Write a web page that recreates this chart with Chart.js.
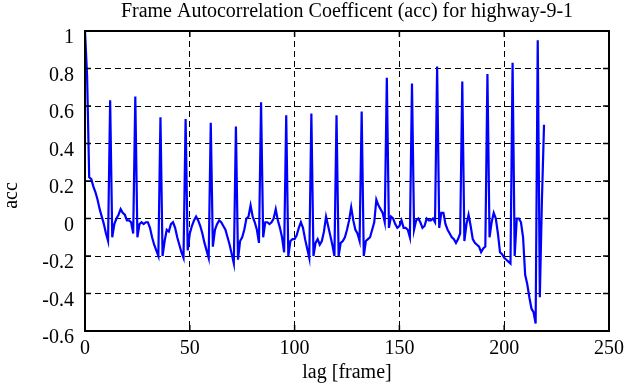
<!DOCTYPE html>
<html lang="en">
<head>
  <meta charset="UTF-8">
  <title>Frame Autocorrelation</title>
  <script src="https://cdn.jsdelivr.net/npm/chart.js"></script>
  <style>
    html, body { margin: 0; padding: 0; background: #fff; }
    #wrap { width: 630px; height: 387px; }
  </style>
</head>
<body>
  <div id="wrap"><canvas id="accChart" width="630" height="387"></canvas></div>

  <script>
    // autocorrelation coefficient, one value per lag (lag 0..219)
    const acc = [
      1.00, 0.76, 0.22, 0.21, 0.17, 0.14, 0.10, 0.05, 0.01, -0.03,
      -0.08, -0.12, 0.63, -0.10, -0.03, 0.00, 0.02, 0.05, 0.03, 0.02,
      -0.01, -0.01, -0.02, -0.08, 0.65, -0.10, -0.03, -0.02, -0.03, -0.02,
      -0.02, -0.05, -0.10, -0.14, -0.17, -0.20, 0.54, -0.20, -0.12, -0.06,
      -0.07, -0.03, -0.02, -0.05, -0.10, -0.14, -0.18, -0.21, 0.53, -0.17,
      -0.08, -0.04, -0.01, 0.01, -0.01, -0.04, -0.08, -0.13, -0.17, -0.21,
      0.51, -0.15, -0.06, -0.03, -0.01, -0.02, -0.04, -0.06, -0.10, -0.14,
      -0.19, -0.24, 0.49, -0.22, -0.12, -0.10, -0.06, 0.00, 0.01, 0.07,
      0.01, -0.02, -0.06, -0.13, 0.62, -0.10, -0.02, -0.02, -0.03, -0.02,
      0.00, 0.05, -0.01, -0.05, -0.10, -0.18, 0.55, -0.20, -0.12, -0.11,
      -0.11, -0.09, -0.05, -0.02, -0.05, -0.11, -0.16, -0.21, 0.56, -0.20,
      -0.13, -0.11, -0.14, -0.12, -0.07, 0.01, -0.04, -0.09, -0.14, -0.20,
      0.55, -0.20, -0.13, -0.12, -0.10, -0.06, -0.01, 0.06, -0.01, -0.06,
      -0.08, -0.12, 0.57, -0.20, -0.12, -0.11, -0.10, -0.06, -0.02, 0.10,
      0.07, 0.05, 0.03, -0.02, 0.75, -0.05, 0.01, 0.00, -0.03, -0.05,
      -0.04, -0.01, -0.05, -0.05, -0.06, -0.10, 0.72, -0.06, -0.01, 0.00,
      -0.02, -0.05, -0.04, 0.00, -0.01, -0.01, 0.00, -0.02, 0.81, -0.05,
      0.03, 0.03, -0.03, -0.06, -0.08, -0.10, -0.11, -0.13, -0.11, -0.08,
      0.73, -0.12, -0.03, 0.02, -0.04, -0.11, -0.13, -0.14, -0.15, -0.18,
      -0.16, -0.15, 0.77, -0.10, -0.02, 0.03, 0.00, -0.08, -0.18, -0.19,
      -0.21, -0.22, -0.23, -0.24, 0.83, -0.20, 0.00, 0.00, -0.02, -0.10,
      -0.30, -0.35, -0.42, -0.48, -0.50, -0.56, 0.95, -0.42, 0.10, 0.50
    ];
    const lags = acc.map((v, i) => i);

    // axis ticks
    const xTicks = [0, 50, 100, 150, 200, 250];
    const yTicks = [-0.6, -0.4, -0.2, 0, 0.2, 0.4, 0.6, 0.8, 1];
    const yTickLabels = ["-0.6", "-0.4", "-0.2", "0", "0.2", "0.4", "0.6", "0.8", "1"];
    const yTitle = "acc";

    const serif = "'Liberation Serif', 'Times New Roman', serif";

    // black frame round the plot, small inward ticks on every side, y title
    const framePlugin = {
      id: "frame",
      afterDraw(chart) {
        const ctx = chart.ctx;
        const a = chart.chartArea;
        const xs = chart.scales.x, ys = chart.scales.y;
        ctx.save();
        ctx.strokeStyle = "#000";
        ctx.lineWidth = 1.5;
        ctx.beginPath();
        xTicks.forEach(t => {
          const px = xs.getPixelForValue(t);
          ctx.moveTo(px, a.bottom); ctx.lineTo(px, a.bottom - 6);
          ctx.moveTo(px, a.top); ctx.lineTo(px, a.top + 6);
        });
        yTicks.forEach(t => {
          const py = ys.getPixelForValue(t);
          ctx.moveTo(a.left, py); ctx.lineTo(a.left + 6, py);
          ctx.moveTo(a.right, py); ctx.lineTo(a.right - 6, py);
        });
        ctx.stroke();
        ctx.lineWidth = 2;
        ctx.strokeRect(a.left, a.top, a.right - a.left, a.bottom - a.top);

        // rotated y axis title, sitting a bit below the middle like the original
        ctx.fillStyle = "#000";
        ctx.font = "20px " + serif;
        ctx.textAlign = "center";
        ctx.textBaseline = "middle";
        ctx.translate(12, ys.getPixelForValue(0) - 23);
        ctx.rotate(-Math.PI / 2);
        ctx.fillText(yTitle, 0, 0);
        ctx.restore();
      }
    };

    const ctx = document.getElementById("accChart").getContext("2d");
    new Chart(ctx, {
      type: "line",
      data: {
        datasets: [{
          label: "acc",
          data: lags.map((l, i) => ({ x: l, y: acc[i] })),
          borderColor: "#0000ff",
          borderWidth: 2.2,
          pointRadius: 0,
          tension: 0,
          fill: false
        }]
      },
      options: {
        responsive: false,
        animation: false,
        layout: { padding: { left: 0, right: 17, top: 0, bottom: 0 } },
        plugins: {
          legend: { display: false },
          tooltip: { enabled: false },
          title: {
            display: true,
            fullSize: false, // centre over the plot, not the canvas
            text: "Frame Autocorrelation Coefficent (acc) for highway-9-1",
            color: "#000",
            font: { family: serif, size: 20, weight: "normal", lineHeight: 1.2 },
            padding: { top: 0, bottom: 7 }
          }
        },
        scales: {
          x: {
            type: "linear",
            min: 0, max: 250,
            afterBuildTicks: s => { s.ticks = xTicks.map(v => ({ value: v })); },
            afterFit: s => { s.height = 56; },
            grid: { color: "#000", lineWidth: 1, drawTicks: false },
            border: { display: false, dash: [6, 4] },
            ticks: { color: "#000", padding: 6, font: { family: serif, size: 20 },
                     maxRotation: 0, callback: v => String(v) },
            title: { display: true, text: "lag [frame]", color: "#000",
                     font: { family: serif, size: 20 }, padding: { top: 0, bottom: 2 } }
          },
          y: {
            min: -0.6, max: 1,
            afterBuildTicks: s => { s.ticks = yTicks.map(v => ({ value: v })); },
            afterFit: s => { s.width = 85; },
            grid: { color: "#000", lineWidth: 1, drawTicks: false },
            border: { display: false, dash: [6, 4] },
            ticks: { color: "#000", padding: 11, labelOffset: 7, font: { family: serif, size: 20 },
                     callback: (v, i) => yTickLabels[i] },
            title: { display: false }
          }
        }
      },
      plugins: [framePlugin]
    });
  </script>
</body>
</html>
